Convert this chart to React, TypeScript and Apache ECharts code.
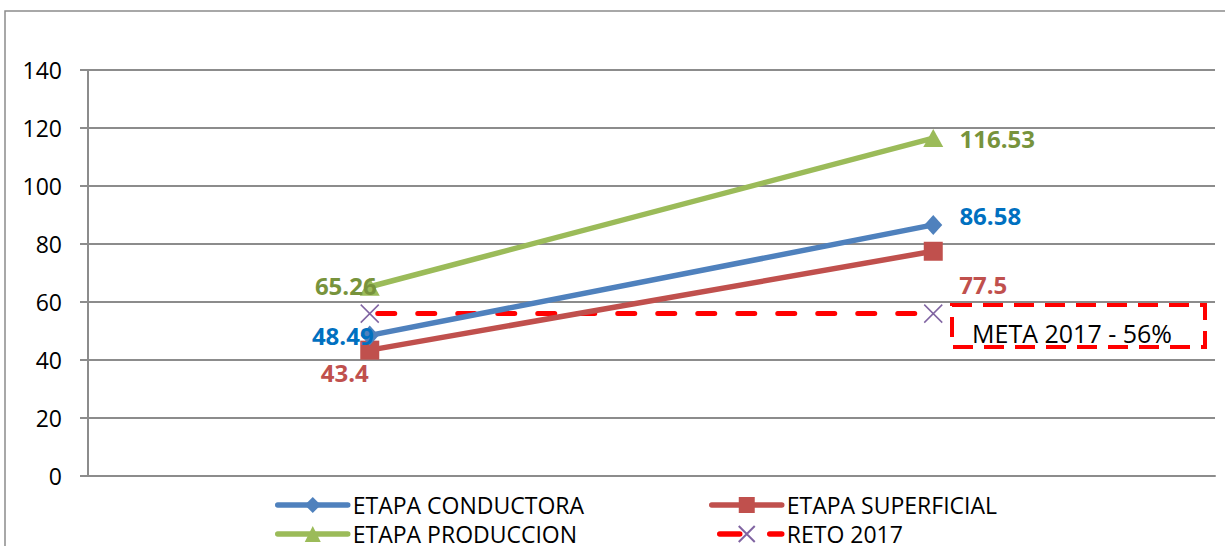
import React, { useEffect, useRef } from "react";
import * as echarts from "echarts";

// Stage results per period and the 2017 target
const categories = ["Periodo 1", "Periodo 2"];
const conductora = [48.49, 86.58];
const superficial = [43.4, 77.5];
const produccion = [65.26, 116.53];
const reto = [56, 56];

const yMax = 140;
const yInterval = 20;

// Where each value label sits relative to its marker (px)
const conductoraLabelOffset: [number, number][] = [[-27, 0], [57, -9]];
const superficialLabelOffset: [number, number][] = [[-25, 22], [50, 33]];
const produccionLabelOffset: [number, number][] = [[-24, -1], [64, 0]];

const FONT = '"Open Sans", "Noto Sans", sans-serif';
const GRID_GREY = "#8c8c8c";

function labelled(values: number[], offsets: [number, number][], color: string) {
  return values.map((v, i) => ({
    value: v,
    label: {
      show: true,
      position: "inside",
      offset: offsets[i],
      color,
      fontFamily: FONT,
      fontSize: 24,
      fontWeight: "bold",
      formatter: String(v),
    },
  }));
}

export default function App() {
  const ref = useRef<HTMLDivElement>(null);

  useEffect(() => {
    if (!ref.current) return;
    const chart = echarts.init(ref.current, null, { renderer: "svg" });

    const legendCommon = {
      orient: "vertical" as const,
      top: 486,
      height: 80,
      itemWidth: 70,
      itemHeight: 20,
      itemGap: 1,
      selectedMode: false,
      lineStyle: { width: 5.5, cap: "round" },
      textStyle: { fontFamily: FONT, fontSize: 23, color: "#000", lineHeight: 28 },
    };

    chart.setOption({
      animation: false,
      backgroundColor: "#fff",
      grid: { left: 88, right: 10, top: 70, bottom: 70 },
      legend: [
        { ...legendCommon, left: 270, data: ["ETAPA CONDUCTORA", "ETAPA PRODUCCION"] },
        {
          ...legendCommon,
          left: 704,
          data: [
            "ETAPA SUPERFICIAL",
            { name: "RETO 2017", lineStyle: { type: [20, 30], width: 5.5, cap: "round" } },
          ],
        },
      ],
      xAxis: {
        type: "category",
        data: categories,
        boundaryGap: true,
        axisLine: { show: true, lineStyle: { color: GRID_GREY, width: 2 } },
        axisTick: { show: false },
        axisLabel: { show: false },
      },
      yAxis: {
        type: "value",
        min: 0,
        max: yMax,
        interval: yInterval,
        axisLine: { show: true, lineStyle: { color: GRID_GREY, width: 2 } },
        axisTick: { show: true, length: 8, lineStyle: { color: GRID_GREY, width: 2 } },
        axisLabel: { margin: 26, fontFamily: FONT, fontSize: 23, color: "#000" },
        splitLine: { show: true, lineStyle: { color: GRID_GREY, width: 2 } },
      },
      series: [
        {
          name: "ETAPA CONDUCTORA",
          type: "line",
          data: labelled(conductora, conductoraLabelOffset, "#0070c0"),
          symbol: "diamond",
          symbolSize: [18, 20],
          lineStyle: { color: "#4f81bd", width: 5.5 },
          itemStyle: { color: "#4f81bd" },
          z: 4,
        },
        {
          name: "ETAPA SUPERFICIAL",
          type: "line",
          data: labelled(superficial, superficialLabelOffset, "#c0504d"),
          symbol: "rect",
          symbolSize: 19,
          lineStyle: { color: "#c0504d", width: 5.5 },
          itemStyle: { color: "#c0504d" },
          z: 3,
        },
        {
          name: "ETAPA PRODUCCION",
          type: "line",
          data: labelled(produccion, produccionLabelOffset, "#77933c"),
          symbol: "triangle",
          symbolSize: [20, 18],
          lineStyle: { color: "#9bbb59", width: 5.5 },
          itemStyle: { color: "#9bbb59" },
          z: 3,
        },
        {
          name: "RETO 2017",
          type: "line",
          data: reto,
          symbol: "path://M0,0L10,10M10,0L0,10",
          symbolSize: 18,
          lineStyle: { color: "#ff0000", width: 5, type: [17, 23], dashOffset: -8, cap: "round" },
          itemStyle: { color: "rgba(0,0,0,0)", borderColor: "#8064a2", borderWidth: 1.5 },
          z: 2,
        },
      ],
      graphic: [
        {
          type: "rect",
          shape: { x: 5, y: 11, width: 1260, height: 600 },
          style: { fill: "none", stroke: GRID_GREY, lineWidth: 1.5 },
          silent: true,
          z: -1,
        },
        {
          type: "group",
          left: 950,
          top: 303,
          children: [
            {
              type: "rect",
              shape: { x: 0, y: 0, width: 253, height: 42 },
              style: { fill: "#fff", stroke: "#ff0000", lineWidth: 4, lineDash: [20, 11] },
            },
            {
              type: "text",
              x: 120,
              y: 28,
              style: {
                text: "META 2017 - 56%",
                fill: "#000",
                fontFamily: FONT,
                fontSize: 25,
                align: "center",
                verticalAlign: "middle",
              },
            },
          ],
        },
      ],
    });

    return () => chart.dispose();
  }, []);

  return (
    <div
      ref={ref}
      style={{ position: "fixed", left: 0, top: 0, width: 1225, height: 546 }}
    />
  );
}
